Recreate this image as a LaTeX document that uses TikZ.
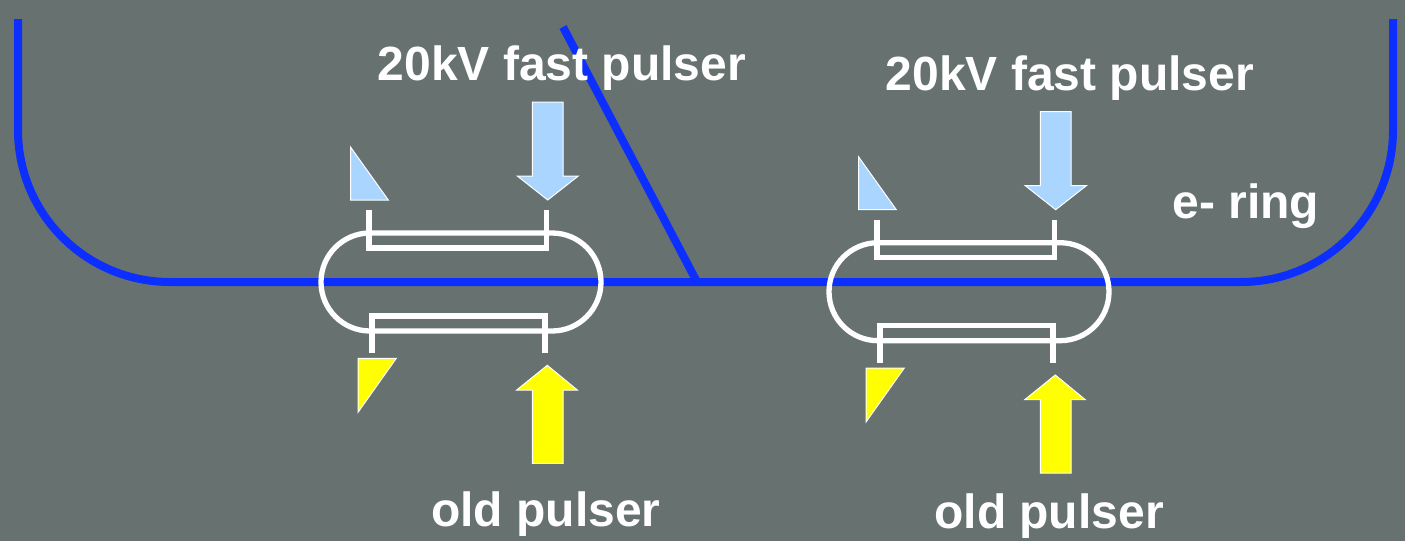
\documentclass[tikz,border=0pt]{standalone}
\usepackage{fontspec}
\setmainfont{Liberation Sans}
\definecolor{slidebg}{HTML}{677270}
\definecolor{ringblue}{HTML}{0C2FFF}
\definecolor{fastblue}{HTML}{A9D5FF}
\definecolor{oldyellow}{HTML}{FFFF00}
\tikzset{
    ring/.style={draw=ringblue,line width=8pt},
    plate/.style={draw=white,line width=5.3pt,line cap=butt,miter limit=10},
    fastshape/.style={draw=white,fill=fastblue,line width=1pt,line join=miter},
    oldshape/.style={draw=white,fill=oldyellow,line width=1pt,line join=miter},
    label/.style={text=white,font=\fontsize{48}{48}\selectfont\bfseries}
}
\begin{document}
\begin{tikzpicture}[x=1pt,y=-1pt]
    \useasboundingbox[fill=slidebg] (0,0) rectangle (1405,541);

    % e- ring
    \draw[ring] (18,19) -- (18,130) arc[start angle=180,end angle=90,radius=152] -- (1241,282)
        arc[start angle=90,end angle=0,radius=152] -- (1393,19);
    \draw[ring] (563,27) -- (697,282);

    % the two kicker units
    \foreach \dx/\dy in {0/0,508/9.7} {
    \begin{scope}[shift={(\dx pt,-\dy pt)}]
        \draw[plate] (370,233) arc[start angle=-90,end angle=-270,radius=49] -- (552,331)
            arc[start angle=90,end angle=-90,radius=49] -- cycle;
        \draw[plate] (369,210) -- (369,248) -- (546.7,248) -- (546.7,210);
        \draw[plate] (372,353) -- (372,316) -- (545,316) -- (545,353);

        \draw[fastshape] (350.7,147.3) -- (350.7,200) -- (388.3,200) -- cycle;
        \draw[fastshape] (532.3,102) -- (563,102) -- (563,176) -- (578.3,176) -- (547.7,200)
            -- (517.3,176) -- (532.3,176) -- cycle;
        \draw[oldshape] (358,358.3) -- (396.3,358.3) -- (358,412.3) -- cycle;
        \draw[oldshape] (547.3,365.3) -- (577.3,390) -- (563,390) -- (563,463.3)
            -- (532.3,463.3) -- (532.3,390) -- (516.7,390) -- cycle;
    \end{scope}
    }

    \node[label] (fastleft) at (562,68) {20kV fast pulser};
    \node[label] (fastright) at (1070,78) {20kV fast pulser};
    \node[label] (oldleft) at (546,514) {old pulser};
    \node[label] (oldright) at (1049,516) {old pulser};
    \node[label] (ringname) at (1246,206) {e- ring};
\end{tikzpicture}
\end{document}
